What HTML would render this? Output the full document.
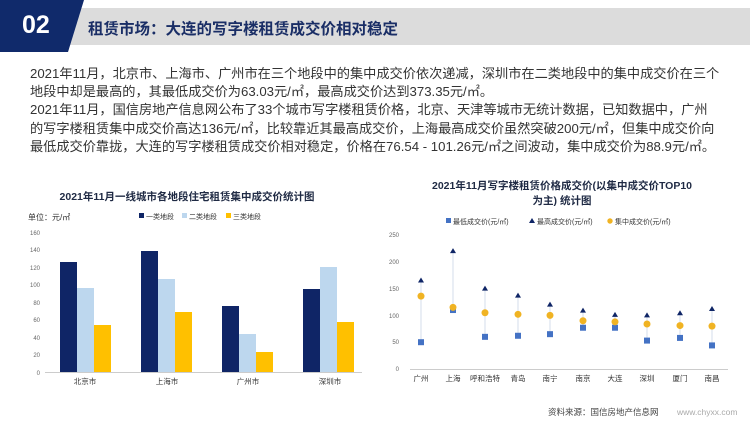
<!DOCTYPE html>
<html><head><meta charset="utf-8"><style>
body{margin:0;width:750px;height:421px;background:#fff;overflow:hidden;position:relative;font-family:"Liberation Sans","Noto Sans CJK SC",sans-serif;}
.p{position:absolute;left:30px;top:65px;width:720px;font-size:13.2px;line-height:18.2px;color:#333;white-space:nowrap;}
</style></head><body>
<div style="position:absolute;left:70px;top:8px;width:680px;height:37px;background:#dcdcdc;"></div>
<svg style="position:absolute;left:0;top:0" width="100" height="52"><polygon points="0,0 84,0 68,52 0,52" fill="#102a6b"/></svg>
<div style="position:absolute;left:22px;top:11px;color:#fff;font-size:25px;font-weight:bold;">02</div>
<div style="position:absolute;left:88px;top:17px;color:#1a2e66;font-size:15.5px;font-weight:bold;">租赁市场：大连的写字楼租赁成交价相对稳定</div>
<div class="p">2021年11月，北京市、上海市、广州市在三个地段中的集中成交价依次递减，深圳市在二类地段中的集中成交价在三个<br>地段中却是最高的，其最低成交价为63.03元/㎡，最高成交价达到373.35元/㎡。<br>2021年11月，国信房地产信息网公布了33个城市写字楼租赁价格，北京、天津等城市无统计数据，已知数据中，广州<br>的写字楼租赁集中成交价高达136元/㎡，比较靠近其最高成交价，上海最高成交价虽然突破200元/㎡，但集中成交价向<br>最低成交价靠拢，大连的写字楼租赁成交价相对稳定，价格在76.54 - 101.26元/㎡之间波动，集中成交价为88.9元/㎡。</div>
<svg style="position:absolute;left:0;top:0" width="750" height="421" font-family="Liberation Sans,Noto Sans CJK SC,sans-serif">
<text x="187" y="200" font-size="10.5" font-weight="bold" fill="#1f2a44" text-anchor="middle">2021年11月一线城市各地段住宅租赁集中成交价统计图</text>
<text x="28" y="220" font-size="8" fill="#333">单位：元/㎡</text>
<rect x="139" y="213" width="5" height="5" fill="#0f2566"/><text x="146" y="219" font-size="7" fill="#333">一类地段</text>
<rect x="182" y="213" width="5" height="5" fill="#bdd7ee"/><text x="189" y="219" font-size="7" fill="#333">二类地段</text>
<rect x="226" y="213" width="5" height="5" fill="#ffc000"/><text x="233" y="219" font-size="7" fill="#333">三类地段</text>
<g font-size="6" fill="#666" text-anchor="end">
<text x="40" y="235">160</text><text x="40" y="252">140</text><text x="40" y="270">120</text><text x="40" y="287">100</text><text x="40" y="305">80</text><text x="40" y="322">60</text><text x="40" y="340">40</text><text x="40" y="357">20</text><text x="40" y="375">0</text></g>
<line x1="45" y1="372.5" x2="362" y2="372.5" stroke="#ccc"/>
<g>
<rect x="60" y="262" width="17" height="110" fill="#0f2566"/><rect x="77" y="288" width="17" height="84" fill="#bdd7ee"/><rect x="94" y="325" width="17" height="47" fill="#ffc000"/>
<rect x="141" y="251" width="17" height="121" fill="#0f2566"/><rect x="158" y="279" width="17" height="93" fill="#bdd7ee"/><rect x="175" y="312" width="17" height="60" fill="#ffc000"/>
<rect x="222" y="306" width="17" height="66" fill="#0f2566"/><rect x="239" y="334" width="17" height="38" fill="#bdd7ee"/><rect x="256" y="352" width="17" height="20" fill="#ffc000"/>
<rect x="303" y="289" width="17" height="83" fill="#0f2566"/><rect x="320" y="267" width="17" height="105" fill="#bdd7ee"/><rect x="337" y="322" width="17" height="50" fill="#ffc000"/>
</g>
<g font-size="7.5" fill="#333" text-anchor="middle"><text x="85" y="384">北京市</text><text x="167" y="384">上海市</text><text x="248" y="384">广州市</text><text x="330" y="384">深圳市</text></g>
<text x="562" y="189" font-size="10.5" font-weight="bold" fill="#1f2a44" text-anchor="middle">2021年11月写字楼租赁价格成交价(以集中成交价TOP10</text>
<text x="562" y="204" font-size="10.5" font-weight="bold" fill="#1f2a44" text-anchor="middle">为主) 统计图</text>
<rect x="446" y="218" width="5" height="5" fill="#4472c4"/><text x="453" y="224" font-size="7" fill="#333">最低成交价(元/㎡)</text>
<polygon points="529,223 532,218 535,223" fill="#0f2566"/><text x="537" y="224" font-size="7" fill="#333">最高成交价(元/㎡)</text>
<circle cx="610" cy="221" r="2.7" fill="#f0b323"/><text x="615" y="224" font-size="7" fill="#333">集中成交价(元/㎡)</text>
<g font-size="6" fill="#666" text-anchor="end"><text x="399" y="237">250</text><text x="399" y="264">200</text><text x="399" y="291">150</text><text x="399" y="318">100</text><text x="399" y="344">50</text><text x="399" y="371">0</text></g>
<line x1="410" y1="369.5" x2="728" y2="369.5" stroke="#ccc"/>
<g id="d"></g>
<g font-size="7.5" fill="#333" text-anchor="middle"><text x="421" y="381">广州</text><text x="453" y="381">上海</text><text x="485" y="381">呼和浩特</text><text x="518" y="381">青岛</text><text x="550" y="381">南宁</text><text x="583" y="381">南京</text><text x="615" y="381">大连</text><text x="647" y="381">深圳</text><text x="680" y="381">厦门</text><text x="712" y="381">南昌</text></g>
<text x="548" y="415" font-size="8.5" fill="#444">资料来源：国信房地产信息网</text><text x="677" y="415" font-size="8.5" fill="#aaa">www.chyxx.com</text>
</svg>
<script>
var xs=[421,453,485,518,550,583,615,647,680,712],mn=[50,110,60,62,65,77,77,53,58,44],mx=[165,220,150,137,120,109,101,100,104,112],md=[136,115,105,102,100,90,88,84,81,80];
var y=v=>369-v*0.536,s='';
for(var i=0;i<10;i++){var x=xs[i];
s+=`<line x1="${x}" y1="${y(mx[i])}" x2="${x}" y2="${y(mn[i])}" stroke="#c9d6e6" stroke-width="0.8"/>`;
s+=`<rect x="${x-3}" y="${y(mn[i])-3}" width="6" height="6" fill="#4472c4"/>`;
s+=`<polygon points="${x-3},${y(mx[i])+2} ${x},${y(mx[i])-3} ${x+3},${y(mx[i])+2}" fill="#0f2566"/>`;
s+=`<circle cx="${x}" cy="${y(md[i])}" r="3.5" fill="#f0b323"/>`;}
document.getElementById('d').innerHTML=s;
</script>
</body></html>
